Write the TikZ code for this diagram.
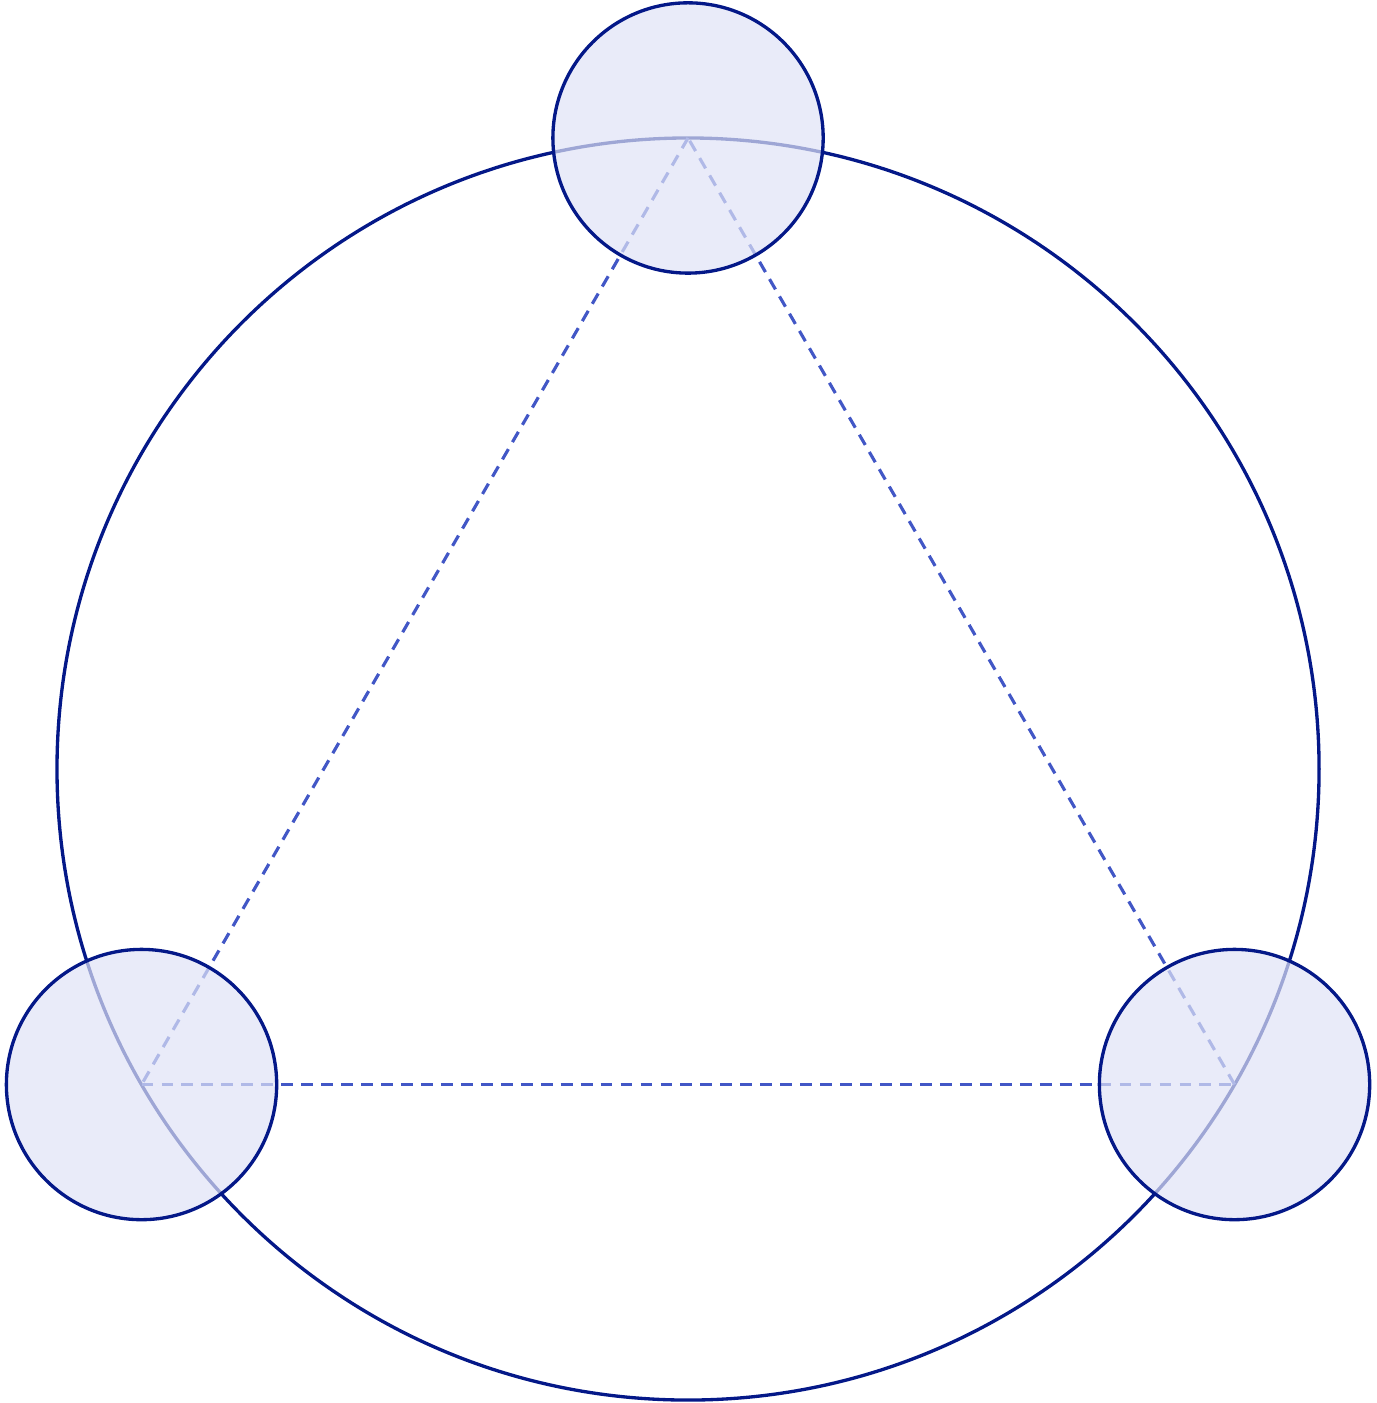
\documentclass[tikz,border=0pt]{standalone}
\usepackage{tikz}
\usetikzlibrary{positioning}
\definecolor{navy}{HTML}{041888}
\definecolor{dashc}{HTML}{4257C6}
\definecolor{softb}{HTML}{E0E3F6}
\tikzset{
  ring/.style={draw=navy,line width=0.9pt},
  link/.style={draw=dashc,line width=0.85pt,dash pattern=on 3.2pt off 2.2pt},
  site/.style={circle,draw=navy,line width=0.9pt,fill=softb,fill opacity=0.7,draw opacity=1,minimum size=2.57cm,inner sep=0pt,outer sep=0pt},
}

\begin{document}
\begin{tikzpicture}
\useasboundingbox (-6.542,-6.028) rectangle (6.542,7.312);
% vertices on the ring
\coordinate (t) at (90:6);
\coordinate (l) at (210:6);
\coordinate (r) at (330:6);
\draw[ring] (0,0) circle (6);
\draw[link] (t) -- (l); \draw[link] (l) -- (r); \draw[link] (r) -- (t);
\node[site] (st) at (t) {};
\node[site] (sl) at (l) {};
\node[site] (sr) at (r) {};
\end{tikzpicture}
\end{document}
